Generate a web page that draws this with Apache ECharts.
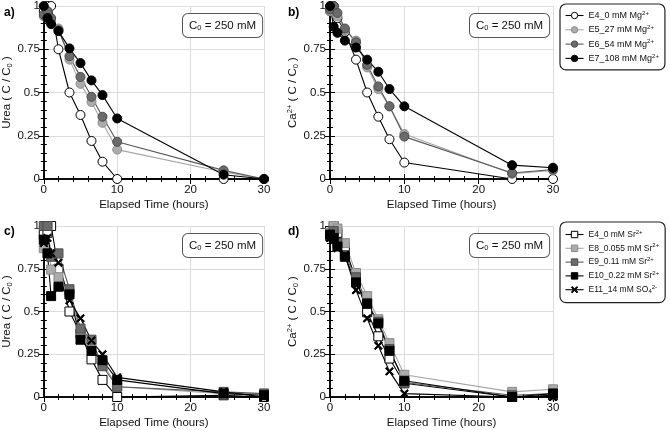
<!DOCTYPE html>
<html><head><meta charset="utf-8">
<script src="https://cdn.jsdelivr.net/npm/echarts@6/dist/echarts.min.js"></script>
<style>html,body{margin:0;padding:0;background:#fff}#c{width:670px;height:430px}</style>
</head><body><div id="c"></div>
<script>
// ---------- data ----------
const time = [0, 0.5, 1, 2, 3.5, 5, 6.5, 8, 10, 24.5, 30];
const xTickLabels = ['0', '10', '20', '30'];
const yTickLabels = ['0', '0.25', '0.5', '0.75', '1'];

// a) Urea, Mg series
const ureaMg_E4 = [0.97, 1.0, 1.0, 0.75, 0.50, 0.37, 0.22, 0.10, 0.0, 0.0, 0.0];
const ureaMg_E5 = [0.94, 0.97, 0.92, 0.87, 0.69, 0.55, 0.445, 0.325, 0.17, 0.04, 0.0];
const ureaMg_E6 = [0.95, 0.97, 0.93, 0.86, 0.71, 0.59, 0.475, 0.36, 0.215, 0.05, 0.0];
const ureaMg_E7 = [1.0, 0.93, 0.895, 0.855, 0.755, 0.67, 0.57, 0.485, 0.35, 0.025, 0.0];
// b) Ca, Mg series
const caMg_E4 = [0.97, 1.0, 0.93, 0.85, 0.69, 0.50, 0.36, 0.23, 0.095, 0.0, 0.0];
const caMg_E5 = [0.97, 0.98, 0.94, 0.86, 0.80, 0.645, 0.52, 0.42, 0.26, 0.03, 0.05];
const caMg_E6 = [0.98, 1.0, 0.96, 0.87, 0.79, 0.66, 0.535, 0.42, 0.245, 0.035, 0.055];
const caMg_E7 = [1.0, 0.88, 0.845, 0.80, 0.76, 0.69, 0.62, 0.52, 0.42, 0.08, 0.065];
// c) Urea, Sr / SO4 series
const ureaSr_E4 = [0.95, 0.96, 1.0, 0.75, 0.50, 0.37, 0.22, 0.10, 0.0, 0.01, 0.0];
const ureaSr_E8 = [0.87, 1.0, 0.745, 0.70, 0.61, 0.37, 0.315, 0.20, 0.06, 0.02, 0.02];
const ureaSr_E9 = [1.0, 1.0, 0.82, 0.84, 0.63, 0.40, 0.335, 0.18, 0.06, 0.03, 0.02];
const ureaSr_E10 = [0.92, 0.84, 0.59, 0.645, 0.60, 0.335, 0.27, 0.215, 0.10, 0.02, 0.01];
const ureaSr_E11 = [0.90, 0.93, 0.84, 0.785, 0.565, 0.46, 0.33, 0.25, 0.115, 0.03, 0.0];
// d) Ca, Sr / SO4 series
const caSr_E4 = [0.97, 1.0, 0.96, 0.87, 0.69, 0.495, 0.355, 0.225, 0.08, 0.0, 0.01];
const caSr_E8 = [0.96, 1.0, 0.985, 0.90, 0.725, 0.59, 0.455, 0.315, 0.13, 0.03, 0.045];
const caSr_E9 = [0.94, 0.97, 0.90, 0.83, 0.70, 0.55, 0.44, 0.28, 0.085, 0.01, 0.02];
const caSr_E10 = [0.95, 0.93, 0.88, 0.82, 0.67, 0.545, 0.43, 0.27, 0.095, 0.0, 0.02];
const caSr_E11 = [0.93, 0.92, 0.87, 0.83, 0.625, 0.46, 0.30, 0.15, 0.02, 0.0, 0.0];

const mgNames = ['E4_0 mM Mg2+', 'E5_27 mM Mg2+', 'E6_54 mM Mg2+', 'E7_108 mM Mg2+'];
const srNames = ['E4_0 mM Sr2+', 'E8_0.055 mM Sr2+', 'E9_0.11 mM Sr2+', 'E10_0.22 mM Sr2+', 'E11_14 mM SO42-'];
const legendRich = {
  'E4_0 mM Mg2+': 'E4_0 mM Mg{s|2+}',
  'E5_27 mM Mg2+': 'E5_27 mM Mg{s|2+}',
  'E6_54 mM Mg2+': 'E6_54 mM Mg{s|2+}',
  'E7_108 mM Mg2+': 'E7_108 mM Mg{s|2+}',
  'E4_0 mM Sr2+': 'E4_0 mM Sr{s|2+}',
  'E8_0.055 mM Sr2+': 'E8_0.055 mM Sr{s|2+}',
  'E9_0.11 mM Sr2+': 'E9_0.11 mM Sr{s|2+}',
  'E10_0.22 mM Sr2+': 'E10_0.22 mM Sr{s|2+}',
  'E11_14 mM SO42-': 'E11_14 mM SO{b|4}{s|2-}'
};

// ---------- styles ----------
const FONT = "'Liberation Sans', Arial, sans-serif";
const XPATH = 'path://M0,1.3L1.3,0L5,3.7L8.7,0L10,1.3L6.3,5L10,8.7L8.7,10L5,6.3L1.3,10L0,8.7L3.7,5Z';
const ST = {
  white: {fill: '#ffffff', border: '#000000', line: '#000000'},
  lgray: {fill: '#ababab', border: '#8c8c8c', line: '#a5a5a5'},
  dgray: {fill: '#6b6b6b', border: '#4a4a4a', line: '#575757'},
  black: {fill: '#000000', border: '#000000', line: '#000000'}
};

function mk(name, vals, gi, st, symbol, size) {
  return {
    type: 'line', name: name, xAxisIndex: gi, yAxisIndex: gi,
    data: time.map((t, i) => [t, vals[i]]),
    symbol: symbol, symbolSize: size, showAllSymbol: true, clip: false,
    lineStyle: {color: st.line, width: 1.1},
    itemStyle: {color: st.fill, borderColor: st.border, borderWidth: 1},
    emphasis: {disabled: true}, animation: false
  };
}

const series = [
  mk(mgNames[0], ureaMg_E4, 0, ST.white, 'circle', 9),
  mk(mgNames[1], ureaMg_E5, 0, ST.lgray, 'circle', 9),
  mk(mgNames[2], ureaMg_E6, 0, ST.dgray, 'circle', 9),
  mk(mgNames[3], ureaMg_E7, 0, ST.black, 'circle', 9),
  mk(mgNames[0], caMg_E4, 1, ST.white, 'circle', 9),
  mk(mgNames[1], caMg_E5, 1, ST.lgray, 'circle', 9),
  mk(mgNames[2], caMg_E6, 1, ST.dgray, 'circle', 9),
  mk(mgNames[3], caMg_E7, 1, ST.black, 'circle', 9),
  mk(srNames[0], ureaSr_E4, 2, ST.white, 'rect', 9),
  mk(srNames[1], ureaSr_E8, 2, ST.lgray, 'rect', 9),
  mk(srNames[2], ureaSr_E9, 2, ST.dgray, 'rect', 9),
  mk(srNames[3], ureaSr_E10, 2, ST.black, 'rect', 9),
  mk(srNames[4], ureaSr_E11, 2, ST.black, XPATH, 8),
  mk(srNames[0], caSr_E4, 3, ST.white, 'rect', 9),
  mk(srNames[1], caSr_E8, 3, ST.lgray, 'rect', 9),
  mk(srNames[2], caSr_E9, 3, ST.dgray, 'rect', 9),
  mk(srNames[3], caSr_E10, 3, ST.black, 'rect', 9),
  mk(srNames[4], caSr_E11, 3, ST.black, XPATH, 8)
];

const grids = [
  {left: 42, top: 6, width: 222, height: 173},
  {left: 330, top: 6, width: 223, height: 173},
  {left: 42, top: 226, width: 222, height: 173},
  {left: 330, top: 226, width: 223, height: 173}
];

const axLine = {show: true, lineStyle: {color: '#000', width: 1.5}};
const tickCommon = {show: true, inside: true, length: 5, lineStyle: {color: '#000', width: 1}};
const minorCommon = {show: true, splitNumber: 5, length: 3, lineStyle: {color: '#000', width: 1}};
const labelStyle = {fontSize: 11.5, color: '#111', fontFamily: FONT};

const xAxes = [], yAxes = [];
const yNames = ['Urea ( C / C{b|0} )', 'Ca{s|2+} ( C / C{b|0} )', 'Urea ( C / C{b|0} )', 'Ca{s|2+} ( C / C{b|0} )'];
for (let g = 0; g < 4; g++) {
  xAxes.push({
    type: 'value', gridIndex: g, min: 0, max: 30, interval: 10, position: 'bottom',
    axisLine: axLine, axisTick: tickCommon, minorTick: minorCommon,
    splitLine: {show: true, lineStyle: {color: '#dcdcdc', width: 1}},
    axisLabel: Object.assign({margin: 5, formatter: v => xTickLabels[Math.round(v / 10)]}, labelStyle),
    name: 'Elapsed Time (hours)', nameLocation: 'middle', nameGap: 20,
    nameTextStyle: {fontSize: 11.5, color: '#111', fontFamily: FONT}
  });
  yAxes.push({
    type: 'value', gridIndex: g, min: 0, max: 1, interval: 0.25, position: 'left',
    axisLine: axLine, axisTick: tickCommon, minorTick: minorCommon,
    splitLine: {show: true, lineStyle: {color: '#dcdcdc', width: 1}},
    axisLabel: Object.assign({margin: 4, formatter: v => yTickLabels[Math.round(v * 4)]}, labelStyle),
    name: yNames[g], nameLocation: 'middle', nameGap: 28,
    nameTextStyle: {fontSize: 11.5, color: '#111', fontFamily: FONT,
      rich: {b: {fontSize: 7.5, fontFamily: FONT, color: '#111', padding: [5, 0, 0, 0]},
             s: {fontSize: 7.5, fontFamily: FONT, color: '#111', padding: [0, 0, 6, 0]}}}
  });
}
for (let g = 0; g < 4; g++) {
  xAxes.push({
    type: 'value', gridIndex: g, min: 0, max: 30, interval: 10, position: 'top',
    axisLine: axLine, axisTick: tickCommon, minorTick: minorCommon,
    splitLine: {show: false}, axisLabel: {show: false}
  });
  yAxes.push({
    type: 'value', gridIndex: g, min: 0, max: 1, interval: 0.25, position: 'right',
    axisLine: axLine, axisTick: tickCommon, minorTick: minorCommon,
    splitLine: {show: false}, axisLabel: {show: false}
  });
}

function c0Box(x, y) {
  return {
    type: 'text', left: x, top: y, z: 100,
    style: {
      text: 'C{b|0} = 250 mM', fontSize: 11.5, fontFamily: FONT, fill: '#111',
      backgroundColor: '#fff', borderColor: '#555', borderWidth: 1, borderRadius: 5,
      padding: [5, 6, 5, 6],
      rich: {b: {fontSize: 7.5, fontFamily: FONT, fill: '#111', padding: [5, 0, 0, 0]}}
    }
  };
}
function panelLabel(t, x, y) {
  return {type: 'text', left: x, top: y, z: 100,
    style: {text: t, fontSize: 12, fontWeight: 'bold', fontFamily: FONT, fill: '#000'}};
}

const legendText = {
  fontSize: 9, color: '#111', fontFamily: FONT,
  rich: {s: {fontSize: 6, fontFamily: FONT, color: '#111', padding: [0, 0, 5, 0]},
         b: {fontSize: 6, fontFamily: FONT, color: '#111', padding: [4, 0, 0, 0]}}
};

const option = {
  animation: false,
  backgroundColor: '#fff',
  grid: grids,
  xAxis: xAxes,
  yAxis: yAxes,
  legend: [
    {left: 560, top: 4, orient: 'vertical', data: mgNames, selectedMode: false,
     itemWidth: 18, itemHeight: 8, itemGap: 4.3, padding: [6, 6, 7, 5],
     lineStyle: {width: 1.1}, itemStyle: {borderWidth: 1},
     borderColor: '#222', borderWidth: 1.2, borderRadius: 6, backgroundColor: '#fff',
     textStyle: legendText, formatter: n => legendRich[n]},
    {left: 560, top: 222, orient: 'vertical', data: srNames, selectedMode: false,
     itemWidth: 18, itemHeight: 8, itemGap: 3.8, padding: [7, 6, 8, 5],
     lineStyle: {width: 1.1}, itemStyle: {borderWidth: 1},
     borderColor: '#222', borderWidth: 1.2, borderRadius: 6, backgroundColor: '#fff',
     textStyle: Object.assign({}, legendText, {fontSize: 8.5}), formatter: n => legendRich[n]}
  ],
  graphic: [
    c0Box(182, 13), c0Box(469, 13), c0Box(182, 233), c0Box(469, 233),
    panelLabel('a)', 4, 7), panelLabel('b)', 288, 7), panelLabel('c)', 4, 226), panelLabel('d)', 288, 226)
  ],
  series: series
};

const chart = echarts.init(document.getElementById('c'), null, {renderer: 'canvas'});
chart.setOption(option);
</script>
</body></html>
